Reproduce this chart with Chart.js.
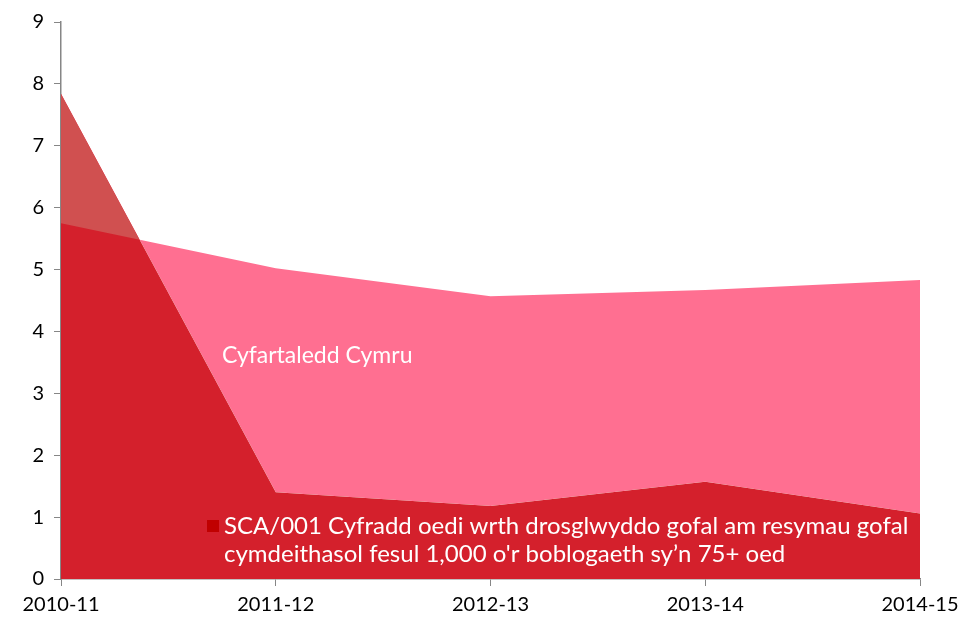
<!DOCTYPE html>
<html>
<head>
<meta charset="utf-8">
<script src="https://cdn.jsdelivr.net/npm/chart.js@4"></script>
<style>
  html, body { margin: 0; padding: 0; background: #fff; }
  #wrap { width: 976px; height: 621px; }
</style>
</head>
<body>
<div id="wrap"><canvas id="areaChart"></canvas></div>
<script>
const years = ["2010-11", "2011-12", "2012-13", "2013-14", "2014-15"];
const walesAverage = [5.75, 5.02, 4.57, 4.67, 4.83];
const sca001 = [7.84, 1.40, 1.18, 1.57, 1.06];
const yTicks = [0, 1, 2, 3, 4, 5, 6, 7, 8, 9];

const FONT = "Lato, 'Open Sans', sans-serif";
const AXIS_GREY = "#868686";

// text drawn inside the plot: series label + one-item legend
const labelsPlugin = {
  id: "areaLabels",
  afterDatasetsDraw(chart) {
    const c = chart.ctx;
    c.save();
    c.font = "23px " + FONT;
    c.fillStyle = "#ffffff";
    c.textBaseline = "middle";
    c.fillText("Cyfartaledd Cymru", 222, 356);
    c.font = "24px " + FONT;
    c.fillStyle = "#c00000";
    c.fillRect(207, 520, 12, 12);
    c.fillStyle = "#ffffff";
    c.fillText("SCA/001 Cyfradd oedi wrth drosglwyddo gofal am resymau gofal", 224, 526);
    c.fillText("cymdeithasol fesul 1,000 o'r boblogaeth sy\u2019n 75+ oed", 224, 554);
    c.restore();
  },
};

const ctx = document.getElementById("areaChart").getContext("2d");
const areaChart = new Chart(ctx, {
  type: "line",
  data: {
    labels: years,
    datasets: [
      {
        label: "Cyfartaledd Cymru",
        data: walesAverage,
        borderWidth: 0,
        pointRadius: 0,
        tension: 0,
        fill: { target: 1, above: "#ff6f91", below: "#d05050" },
      },
      {
        label: "SCA/001",
        data: sca001,
        borderWidth: 0,
        pointRadius: 0,
        tension: 0,
        backgroundColor: "#d4202c",
        fill: "origin",
      },
    ],
  },
  options: {
    responsive: true,
    maintainAspectRatio: false,
    animation: false,
    layout: { padding: { top: 17, right: 56, left: 0, bottom: 0 } },
    plugins: {
      legend: { display: false },
      tooltip: { enabled: false },
    },
    scales: {
      x: {
        offset: false,
        grid: { display: true, drawOnChartArea: false, tickLength: 7, color: AXIS_GREY },
        border: { color: AXIS_GREY, width: 1.5 },
        ticks: { color: "#000", font: { family: FONT, size: 20 }, maxRotation: 0, padding: 7 },
        afterFit(scale) { scale.height = 42; },
      },
      y: {
        min: 0,
        max: 9,
        afterBuildTicks(scale) { scale.ticks = yTicks.map(v => ({ value: v })); },
        grid: { display: true, drawOnChartArea: false, tickLength: 7, color: AXIS_GREY },
        border: { color: AXIS_GREY, width: 1.5 },
        ticks: { color: "#000", font: { family: FONT, size: 20 }, padding: 10 },
        afterFit(scale) { scale.width = 61; },
      },
    },
  },
  plugins: [labelsPlugin],
});
</script>
</body>
</html>
